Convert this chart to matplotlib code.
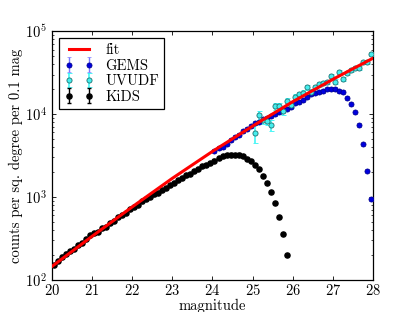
import matplotlib
matplotlib.use("Agg")
import matplotlib.pyplot as plt

# Magnitude bin centres (0.1 mag bins) and counts
kids_mag = [20.05, 20.15, 20.25, 20.35, 20.45, 20.55, 20.65, 20.75, 20.85, 20.95,
            21.05, 21.15, 21.25, 21.35, 21.45, 21.55, 21.65, 21.75, 21.85, 21.95,
            22.05, 22.15, 22.25, 22.35, 22.45, 22.55, 22.65, 22.75, 22.85, 22.95,
            23.05, 23.15, 23.25, 23.35, 23.45, 23.55, 23.65, 23.75, 23.85, 23.95,
            24.05, 24.15, 24.25, 24.35, 24.45, 24.55, 24.65, 24.75, 24.85, 24.95,
            25.05, 25.15, 25.25, 25.35, 25.45, 25.55, 25.65, 25.75, 25.85]
kids_counts = [151, 168, 191, 208, 221, 235, 261, 278, 309, 344,
               366, 378, 421, 436, 484, 513, 570, 604, 641, 711,
               753, 798, 883, 935, 1012, 1072, 1132, 1227, 1297, 1406,
               1483, 1600, 1683, 1816, 1910, 2061, 2167, 2339, 2460, 2594,
               2754, 2951, 3119, 3236, 3251, 3221, 3251, 3119, 2871, 2735,
               2432, 2158, 1807, 1462, 1140, 853, 569, 356, 199]
kids_err = [5, 5, 6, 6, 7, 7, 8, 8, 9, 10,
            11, 11, 13, 13, 15, 15, 17, 18, 19, 21,
            23, 24, 26, 28, 30, 32, 34, 37, 39, 42,
            44, 48, 50, 54, 57, 62, 65, 70, 74, 78,
            83, 89, 94, 97, 98, 97, 98, 94, 86, 82,
            73, 65, 54, 44, 34, 26, 17, 11, 6]

gems_mag = [24.05, 24.15, 24.25, 24.35, 24.45, 24.55, 24.65, 24.75, 24.85, 24.95,
            25.05, 25.15, 25.25, 25.35, 25.45, 25.55, 25.65, 25.75, 25.85, 25.95,
            26.05, 26.15, 26.25, 26.35, 26.45, 26.55, 26.65, 26.75, 26.85, 26.95,
            27.05, 27.15, 27.25, 27.35, 27.45, 27.55, 27.65, 27.75, 27.85, 27.95]
gems_counts = [3589, 3855, 4036, 4335, 4864, 5346, 5598, 6295, 6592, 7244,
               7762, 8110, 8690, 9078, 9506, 9931, 10641, 11117, 11641, 12246,
               13459, 14060, 14757, 16144, 17258, 17742, 18408, 19099, 19861, 20184,
               19999, 18923, 18408, 15704, 13183, 10471, 7430, 4315, 2075, 946]
gems_err = [180, 190, 200, 220, 240, 270, 280, 310, 330, 360,
            390, 410, 430, 450, 480, 500, 530, 560, 580, 610,
            670, 700, 740, 810, 860, 890, 920, 950, 990, 1010,
            1000, 950, 920, 790, 660, 520, 370, 220, 100, 50]

uvudf_mag = [25.05, 25.15, 25.25, 25.35, 25.45, 25.55, 25.65, 25.75, 25.85, 25.95,
             26.05, 26.15, 26.25, 26.35, 26.45, 26.55, 26.65, 26.75, 26.85, 26.95,
             27.05, 27.15, 27.25, 27.35, 27.45, 27.55, 27.65, 27.75, 27.85, 27.95]
uvudf_counts = [5957, 9727, 8472, 8318, 7362, 12474, 12417, 10864, 14355, 12882,
                16144, 17418, 18072, 20941, 18578, 21330, 22803, 23823, 24491, 28708,
                24660, 32359, 26607, 30903, 33884, 35563, 36141, 41976, 42658, 52845]
uvudf_err = [1490, 1170, 850, 830, 1100, 1120, 1120, 1090, 1150, 1030,
             1130, 1220, 1270, 1470, 1300, 1280, 1370, 1430, 1470, 1720,
             1480, 1620, 1330, 1550, 1690, 1780, 1810, 2100, 2130, 2640]

# fit curve, read at whole magnitudes
fit_mag = [20, 21, 22, 23, 24, 25, 26, 27, 28]
fit_counts = [145, 335, 759, 1679, 3548, 7161, 14125, 26300, 47300]

plt.rcParams['font.family'] = 'cmr10'
plt.rcParams['mathtext.fontset'] = 'cm'
plt.rcParams['axes.formatter.use_mathtext'] = True
plt.rcParams['font.size'] = 10.5
plt.rcParams['xtick.direction'] = 'in'
plt.rcParams['ytick.direction'] = 'in'
plt.rcParams['xtick.top'] = True
plt.rcParams['ytick.right'] = True

fig = plt.figure(figsize=(4.15, 3.12), dpi=100)
ax = fig.add_axes([0.125, 0.103, 0.774, 0.797])

h_kids = ax.errorbar(kids_mag, kids_counts, yerr=kids_err, fmt='o', color='k',
                     ms=3.7, mec='k', ecolor='k', elinewidth=1, capsize=1.5,
                     zorder=3, label='KiDS')
h_gems = ax.errorbar(gems_mag, gems_counts, yerr=gems_err, fmt='o', color='#0000dd',
                     ms=3.7, mec='#000088', mew=0.5, ecolor='#7a7aff', elinewidth=1,
                     capsize=1.5, zorder=3, label='GEMS')
h_uv = ax.errorbar(uvudf_mag, uvudf_counts, yerr=uvudf_err, fmt='o', color='#45eeee',
                   ms=3.7, mec='#1f7070', mew=0.6, ecolor='#30f5f5', elinewidth=1.1,
                   capsize=1.8, zorder=3, label='UVUDF')
h_fit, = ax.plot(fit_mag, fit_counts, color='#ff0000', lw=2.2, zorder=5, label='fit')

ax.set_yscale('log')
ax.set_xlim(20, 28)
ax.set_ylim(1e2, 1e5)
ax.set_xticks(fit_mag)
ax.tick_params(which='major', length=3, width=0.6)
ax.tick_params(axis='x', which='major', pad=2.5)
ax.tick_params(axis='y', which='major', pad=3.5)
ax.tick_params(which='minor', length=1.6, width=0.5)
for sp in ax.spines.values():
    sp.set_linewidth(0.9)

ax.set_xlabel('magnitude', labelpad=0)
ax.set_ylabel('counts per sq. degree per 0.1 mag', labelpad=1)

leg = ax.legend([h_fit, h_gems, h_uv, h_kids], ['fit', 'GEMS', 'UVUDF', 'KiDS'],
                loc='upper left', numpoints=2, fancybox=False, framealpha=1,
                borderaxespad=0.5, borderpad=0.35, handlelength=2.0,
                labelspacing=0.12)
leg.get_frame().set_edgecolor('k')
leg.get_frame().set_linewidth(0.9)

fig.savefig('out.png', dpi=100)
